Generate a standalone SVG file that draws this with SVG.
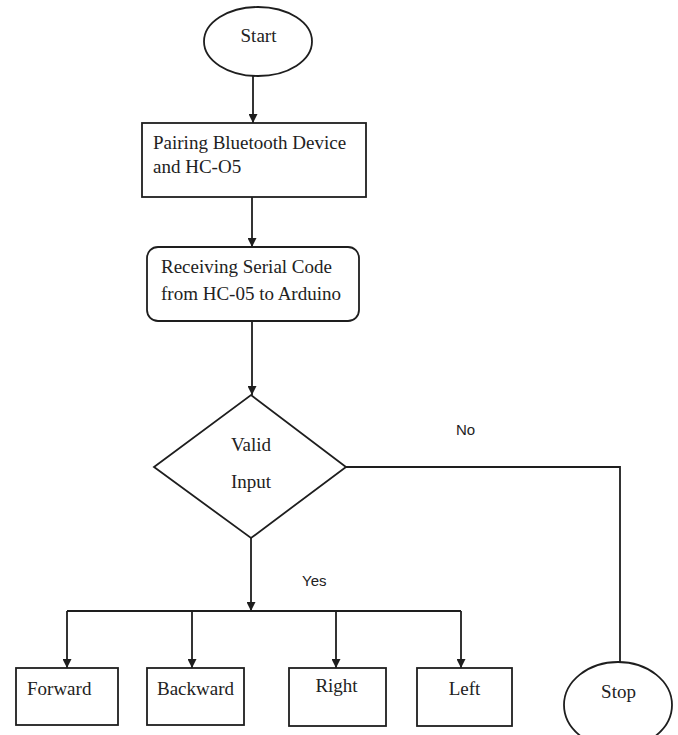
<svg xmlns="http://www.w3.org/2000/svg" width="678" height="735" viewBox="0 0 678 735">
<style>
.shape{fill:#fff;stroke:#1e1e1e;stroke-width:1.8}
.line{fill:none;stroke:#1e1e1e;stroke-width:1.8}
.serif{font-family:"Liberation Serif","Times New Roman",serif;fill:#222;font-size:19px}
.sans{font-family:"Liberation Sans",Arial,sans-serif;fill:#222;font-size:15px}
</style>
<defs>
<marker id="arr" viewBox="0 0 10 10" refX="10" refY="5" markerWidth="9" markerHeight="9" markerUnits="userSpaceOnUse" orient="auto">
<path d="M0,0 L10,5 L0,10 Z" fill="#1e1e1e"/>
</marker>
</defs>
<rect width="678" height="735" fill="#fff"/>
<g id="connectors">
<line class="line" x1="253" y1="76" x2="253" y2="123" marker-end="url(#arr)"/>
<line class="line" x1="252" y1="197" x2="252" y2="247" marker-end="url(#arr)"/>
<line class="line" x1="252" y1="321" x2="252" y2="395" marker-end="url(#arr)"/>
<line class="line" x1="251" y1="538" x2="251" y2="611" marker-end="url(#arr)"/>
<polyline class="line" points="67,611 461,611"/>
<line class="line" x1="67" y1="611" x2="67" y2="668" marker-end="url(#arr)"/>
<line class="line" x1="192" y1="611" x2="192" y2="668" marker-end="url(#arr)"/>
<line class="line" x1="336" y1="611" x2="336" y2="668" marker-end="url(#arr)"/>
<line class="line" x1="461" y1="611" x2="461" y2="668" marker-end="url(#arr)"/>
<polyline class="line" points="346,467 620,467 620,662"/>
<text class="sans" x="456" y="435">No</text>
<text class="sans" x="302" y="586">Yes</text>
</g>
<g id="start">
<ellipse class="shape" cx="258" cy="41.5" rx="54" ry="34.5"/>
<text class="serif" x="258.5" y="42" text-anchor="middle">Start</text>
</g>
<g id="pairing">
<rect class="shape" x="142" y="123" width="224" height="74"/>
<text class="serif" x="153" y="149" font-size="18.5">Pairing Bluetooth Device</text>
<text class="serif" x="153" y="173" font-size="18.5">and HC-O5</text>
</g>
<g id="receiving">
<rect class="shape" x="147" y="247" width="212" height="74" rx="11" ry="11"/>
<text class="serif" x="161" y="273" font-size="18.5">Receiving Serial Code</text>
<text class="serif" x="161" y="300" font-size="18.5">from HC-05 to Arduino</text>
</g>
<g id="valid">
<polygon class="shape" points="251,395 346,467 251,538 154,467"/>
<text class="serif" x="251" y="451" text-anchor="middle">Valid</text>
<text class="serif" x="251" y="488" text-anchor="middle">Input</text>
</g>
<g id="forward">
<rect class="shape" x="16" y="668" width="102" height="57"/>
<text class="serif" x="27" y="695">Forward</text>
</g>
<g id="backward">
<rect class="shape" x="147" y="668" width="97" height="57"/>
<text class="serif" x="157" y="695">Backward</text>
</g>
<g id="right">
<rect class="shape" x="289" y="668" width="97" height="58"/>
<text class="serif" x="336.5" y="692" text-anchor="middle">Right</text>
</g>
<g id="left">
<rect class="shape" x="417" y="668" width="95" height="58"/>
<text class="serif" x="464.5" y="695" text-anchor="middle">Left</text>
</g>
<g id="stop">
<ellipse class="shape" cx="618" cy="705" rx="54" ry="43"/>
<text class="serif" x="618.5" y="698" text-anchor="middle">Stop</text>
</g>
</svg>
